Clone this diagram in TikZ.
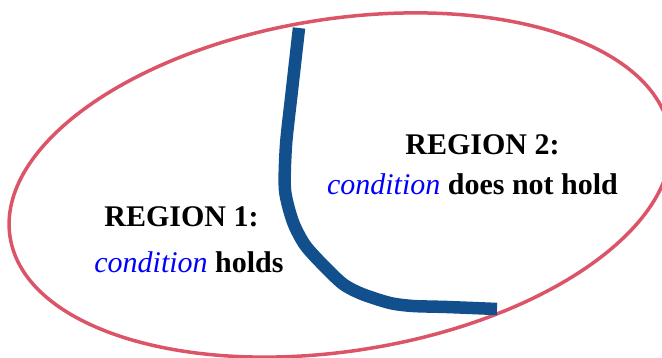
\documentclass[tikz,border=0pt]{standalone}
\usepackage{fontspec}
\setmainfont{Liberation Serif}
\usepackage{tikz}

\definecolor{ringred}{RGB}{220,84,104}
\definecolor{cutblue}{RGB}{17,80,140}

\begin{document}
\begin{tikzpicture}[x=1pt,y=1pt,
  region/.style={anchor=base,inner sep=0pt,font=\fontsize{30}{36}\selectfont\bfseries}]
\useasboundingbox (0,0) rectangle (662,357);
\clip (0,0) rectangle (662,357);
\draw[line width=3.5pt,ringred,rotate around={9:(340,172)}] (340,172) ellipse [x radius=334pt, y radius=166pt];
\draw[line width=12.5pt,cutblue] plot[smooth,tension=0.45] coordinates {(299,329) (292,267) (286,212) (285,167) (293,135) (305,112) (323,92) (343,73) (362,63) (390,54) (413,51) (447,50) (497,48)};
\node[region] (title2) at (482.5,203) {REGION 2:};
\node[region] (text2) at (472.5,163) {{\color{blue}\mdseries\itshape condition} does not hold};
\node[region] (title1) at (181.5,131) {REGION 1:};
\node[region] (text1) at (189,85) {{\color{blue}\mdseries\itshape condition} holds};
\end{tikzpicture}
\end{document}
